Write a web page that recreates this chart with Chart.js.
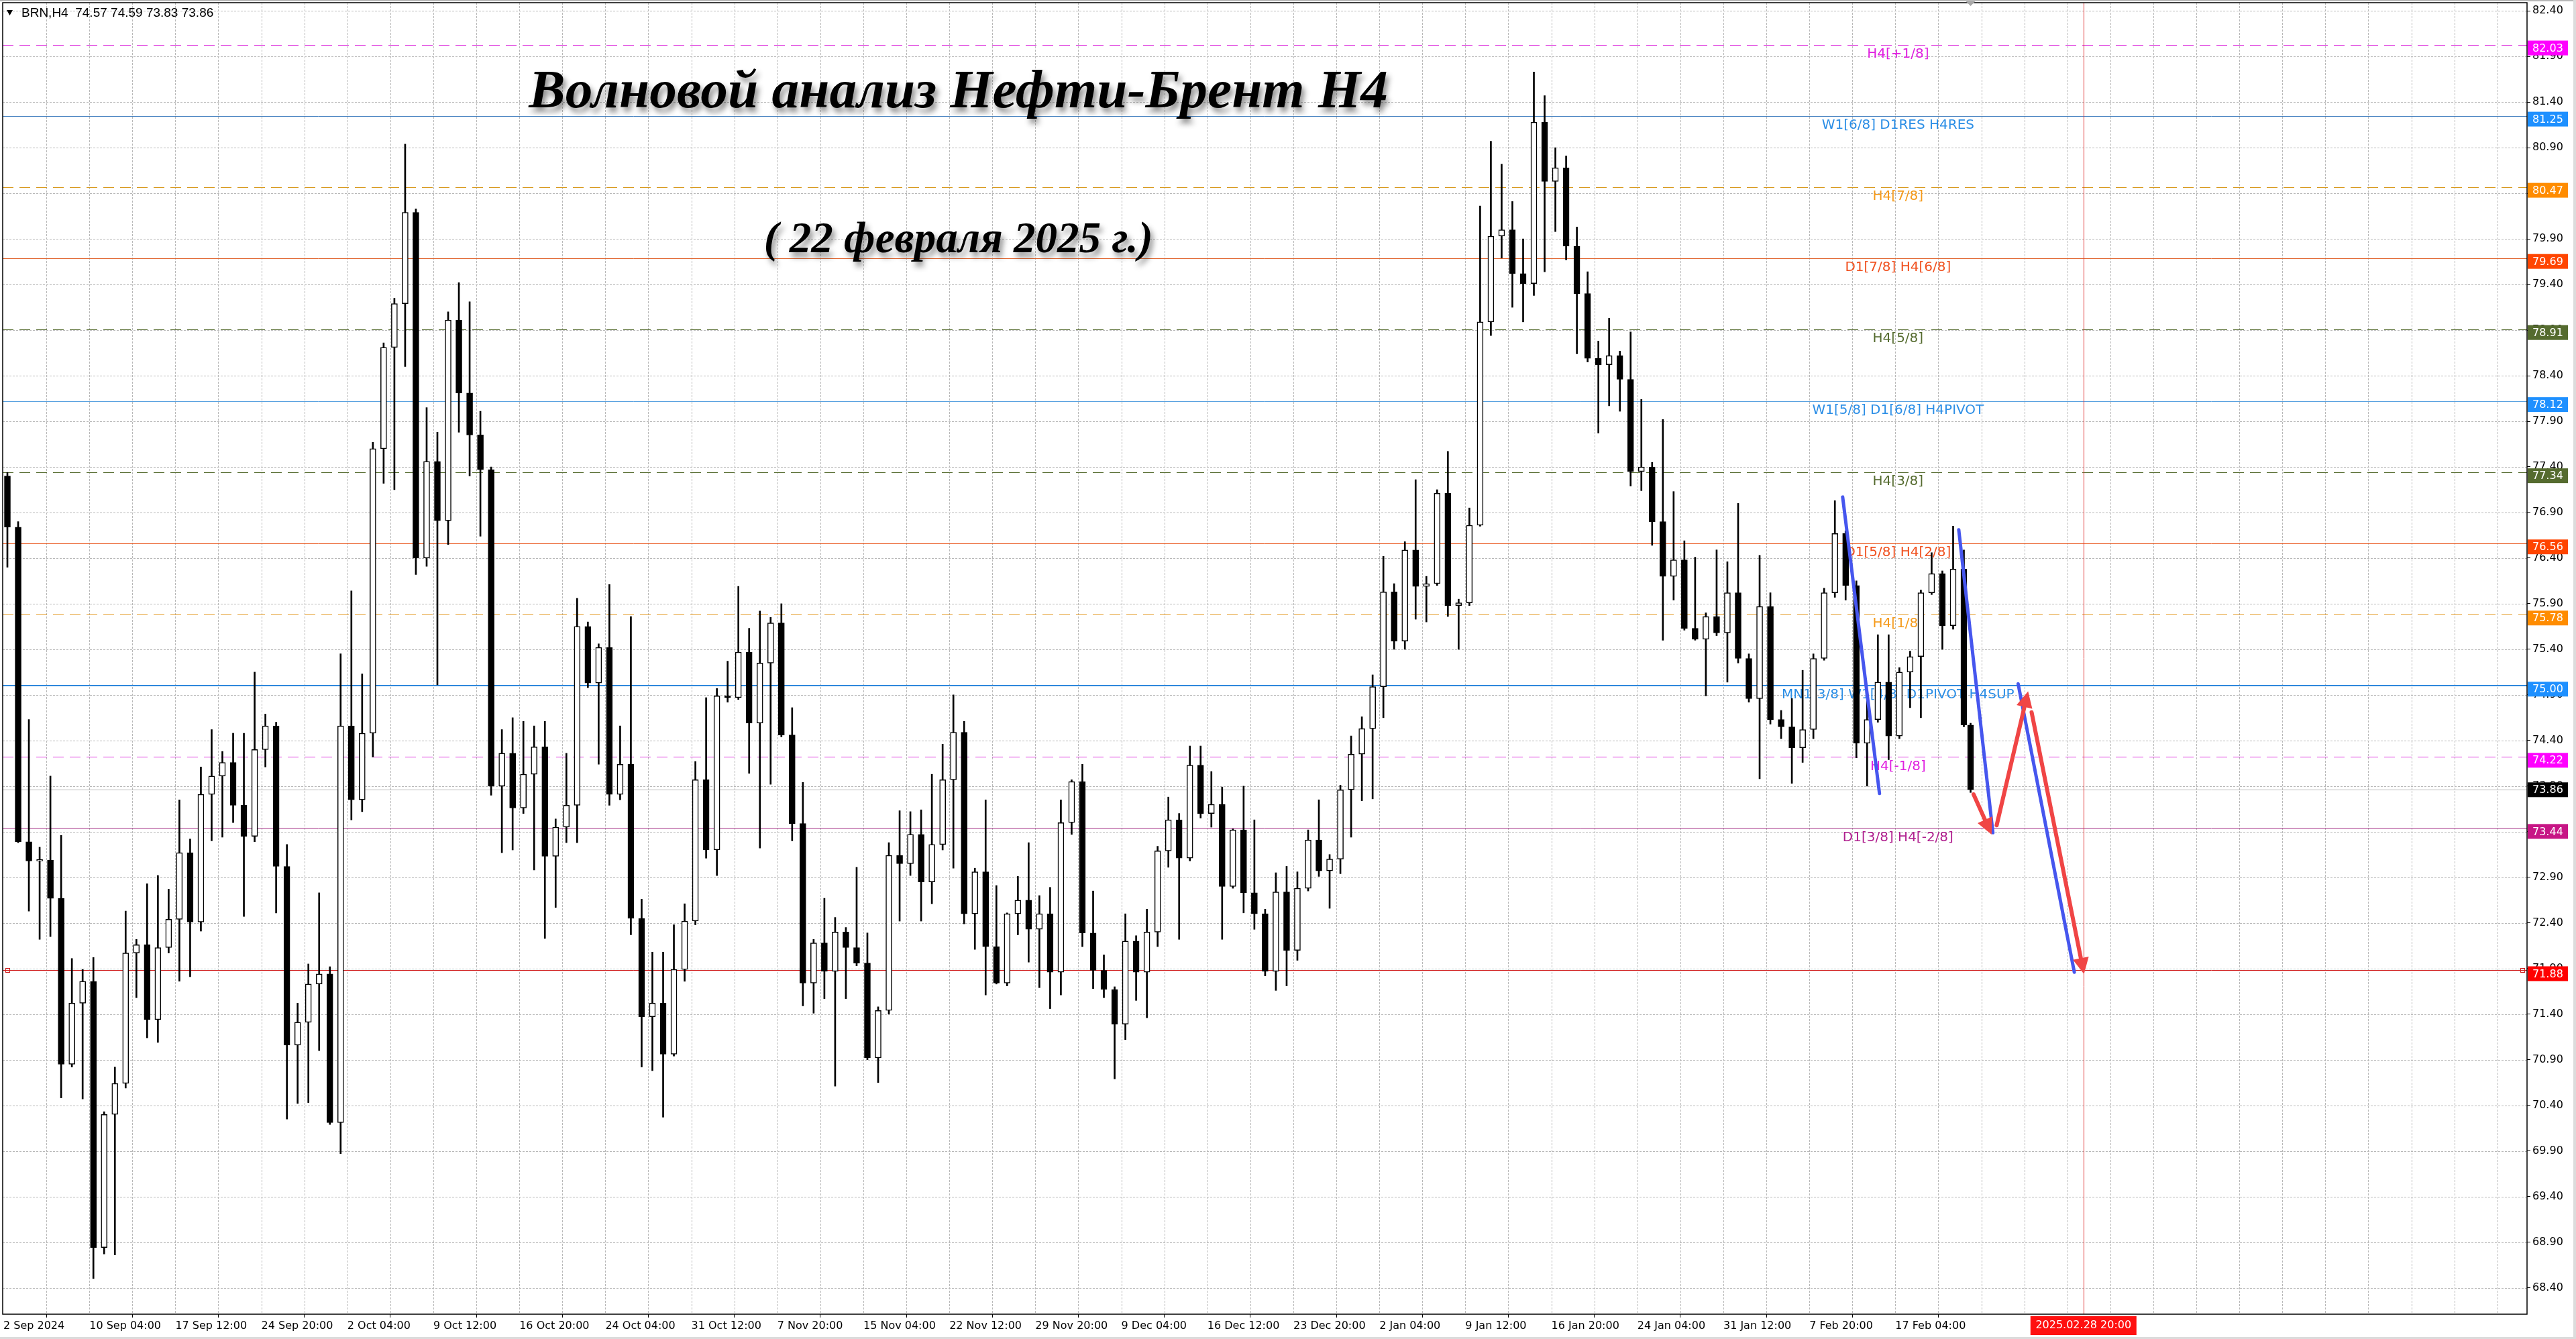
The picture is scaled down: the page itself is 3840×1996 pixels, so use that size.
<!DOCTYPE html>
<html>
<head>
<meta charset="utf-8">
<title>BRN,H4</title>
<script src="https://cdn.jsdelivr.net/npm/chart.js@4.4.1/dist/chart.umd.min.js"></script>
<style>
  html, body { margin: 0; padding: 0; background: #fff; overflow: hidden; }
  #wrap { width: 3840px; height: 1996px; }
</style>
</head>
<body>
<div id="wrap"><canvas id="brnChart" width="3840" height="1996"></canvas></div>
<script>
// BRN H4 candles, every 4 H4 bars merged into one candle (bars 0..732)
const opens = [
  77.30, 76.74, 73.29, 73.08, 73.09, 72.67, 70.85, 71.52, 71.76, 68.84,
  70.30, 70.64, 72.07, 72.16, 71.34, 72.13, 72.44, 73.17, 72.41, 73.81,
  74.01, 74.16, 73.69, 73.35, 74.30, 74.56, 73.02, 71.06, 71.31, 71.73,
  71.84, 70.21, 74.56, 73.75, 74.48, 77.60, 78.71, 79.19, 80.19, 76.40,
  77.46, 76.81, 79.01, 78.21, 77.75, 77.37, 73.90, 74.26, 73.66, 74.03,
  74.33, 73.13, 73.45, 73.69, 75.65, 75.03, 75.42, 73.81, 74.14, 72.45,
  71.37, 71.52, 70.96, 71.89, 72.42, 73.97, 73.20, 74.89, 74.87, 75.37,
  74.59, 75.25, 75.69, 74.46, 73.49, 71.74, 72.18, 71.87, 72.30, 72.13,
  71.96, 70.92, 71.44, 73.14, 73.05, 73.37, 72.85, 73.26, 73.97, 74.49,
  72.50, 72.96, 72.14, 71.74, 72.50, 72.65, 72.33, 72.50, 71.86, 73.50,
  73.95, 72.29, 71.88, 71.67, 71.29, 72.20, 71.86, 72.30, 73.19, 73.53,
  73.11, 74.13, 73.60, 73.70, 72.80, 73.42, 72.73, 72.50, 71.87, 72.74,
  72.10, 72.78, 73.31, 72.97, 73.10, 73.86, 74.25, 74.53, 74.99, 76.03,
  75.49, 76.49, 76.09, 76.12, 77.11, 75.88, 75.91, 76.76, 78.99, 79.93,
  80.00, 79.52, 79.41, 81.18, 80.53, 80.68, 79.82, 79.30, 78.59, 78.52,
  78.62, 78.36, 77.35, 77.40, 76.80, 76.20, 76.38, 75.63, 75.51, 75.76,
  75.58, 76.02, 75.30, 74.86, 75.87, 74.63, 74.55, 74.32, 74.52, 75.30,
  76.02, 76.67, 76.10, 74.37, 74.63, 75.04, 74.45, 75.15, 75.32, 76.02,
  76.23, 75.66, 76.28, 74.57
];
const highs = [
  77.34, 76.80, 74.63, 73.23, 74.01, 73.36, 72.01, 71.89, 72.02, 70.33,
  70.82, 72.53, 72.22, 72.83, 72.92, 72.77, 73.75, 73.32, 74.11, 74.52,
  74.28, 74.48, 74.48, 75.15, 74.69, 74.60, 73.26, 71.52, 71.95, 72.73,
  71.92, 75.35, 76.04, 75.13, 77.67, 78.76, 79.25, 80.94, 80.23, 78.05,
  77.78, 79.10, 79.42, 79.21, 78.01, 77.40, 74.52, 74.65, 74.61, 74.56,
  74.61, 73.54, 74.26, 75.96, 75.70, 75.46, 76.11, 74.56, 75.76, 72.66,
  72.08, 72.08, 72.38, 72.61, 74.17, 74.87, 74.97, 75.27, 76.09, 75.63,
  75.82, 75.75, 75.90, 74.76, 73.94, 72.22, 72.67, 72.46, 72.35, 73.01,
  72.29, 71.48, 73.28, 73.63, 73.62, 73.64, 74.03, 74.36, 74.90, 74.61,
  73.00, 73.75, 72.81, 72.51, 72.91, 73.28, 72.70, 72.79, 73.75, 73.97,
  74.14, 72.75, 72.05, 71.70, 72.50, 72.26, 72.55, 73.24, 73.78, 73.60,
  74.34, 74.34, 74.06, 73.89, 73.43, 73.90, 73.53, 72.55, 72.95, 73.02,
  72.96, 73.42, 73.75, 73.15, 73.91, 74.45, 74.66, 75.12, 76.42, 76.12,
  76.58, 77.26, 76.20, 77.15, 77.57, 75.95, 76.95, 80.26, 80.97, 80.72,
  80.31, 79.90, 81.73, 81.47, 80.90, 80.81, 80.03, 79.54, 78.78, 79.03,
  78.67, 78.88, 78.14, 77.45, 77.92, 77.13, 76.59, 76.41, 75.80, 76.49,
  76.36, 77.00, 75.35, 76.43, 76.02, 74.73, 74.86, 75.17, 75.35, 76.07,
  77.03, 76.70, 76.15, 74.94, 75.56, 75.56, 75.20, 75.38, 76.05, 76.46,
  76.26, 76.75, 76.49, 74.59
];
const lows = [
  76.30, 73.28, 72.53, 72.22, 72.25, 70.48, 70.82, 70.47, 68.50, 68.77,
  68.76, 70.59, 71.58, 71.14, 71.09, 72.07, 71.76, 71.81, 72.31, 73.30,
  73.34, 73.50, 72.47, 73.29, 74.11, 72.51, 70.25, 70.42, 70.43, 71.00,
  70.19, 69.87, 73.53, 73.62, 74.22, 77.22, 77.15, 78.50, 76.22, 76.31,
  75.01, 76.55, 77.78, 77.30, 76.64, 73.80, 73.17, 73.20, 73.60, 72.98,
  72.23, 72.57, 73.28, 73.28, 74.98, 74.14, 73.69, 73.75, 72.27, 70.82,
  70.78, 70.27, 70.94, 71.76, 72.38, 73.11, 72.92, 74.82, 74.85, 74.04,
  73.22, 73.92, 74.44, 73.30, 71.49, 71.41, 71.57, 70.61, 71.57, 71.93,
  70.90, 70.65, 71.40, 72.42, 72.92, 72.42, 72.61, 73.20, 73.00, 72.39,
  72.11, 71.61, 71.73, 71.71, 72.27, 71.97, 71.69, 71.46, 71.61, 73.37,
  72.14, 71.68, 71.58, 70.69, 71.12, 71.55, 71.36, 72.14, 73.01, 72.22,
  73.08, 73.55, 73.45, 72.22, 72.78, 72.51, 72.33, 71.82, 71.66, 71.71,
  71.99, 72.75, 72.91, 72.56, 72.94, 73.34, 73.74, 73.76, 74.65, 75.40,
  75.40, 75.73, 75.70, 76.10, 75.76, 75.40, 75.88, 76.75, 78.84, 79.69,
  79.15, 78.99, 79.28, 79.54, 79.98, 79.67, 78.64, 78.55, 77.77, 78.07,
  78.01, 77.19, 77.14, 76.54, 75.50, 75.94, 75.61, 75.50, 74.89, 75.55,
  75.04, 75.25, 74.82, 73.98, 74.58, 74.42, 73.93, 74.16, 74.42, 75.28,
  75.97, 75.94, 74.21, 73.90, 74.60, 74.19, 74.42, 74.76, 74.65, 76.00,
  75.40, 75.62, 74.55, 73.83
];
const closes = [
  76.74, 73.29, 73.08, 73.09, 72.67, 70.85, 71.52, 71.76, 68.84, 70.30,
  70.64, 72.07, 72.16, 71.34, 72.13, 72.44, 73.17, 72.41, 73.81, 74.01,
  74.16, 73.69, 73.35, 74.30, 74.56, 73.02, 71.06, 71.31, 71.73, 71.84,
  70.21, 74.56, 73.75, 74.48, 77.60, 78.71, 79.19, 80.19, 76.40, 77.46,
  76.81, 79.01, 78.21, 77.75, 77.37, 73.90, 74.26, 73.66, 74.03, 74.33,
  73.13, 73.45, 73.69, 75.65, 75.03, 75.42, 73.81, 74.14, 72.45, 71.37,
  71.52, 70.96, 71.89, 72.42, 73.97, 73.20, 74.89, 74.87, 75.37, 74.59,
  75.25, 75.69, 74.46, 73.49, 71.74, 72.18, 71.87, 72.30, 72.13, 71.96,
  70.92, 71.44, 73.14, 73.05, 73.37, 72.85, 73.26, 73.97, 74.49, 72.50,
  72.96, 72.14, 71.74, 72.50, 72.65, 72.33, 72.50, 71.86, 73.50, 73.95,
  72.29, 71.88, 71.67, 71.29, 72.20, 71.86, 72.30, 73.19, 73.53, 73.11,
  74.13, 73.60, 73.70, 72.80, 73.42, 72.73, 72.50, 71.87, 72.74, 72.10,
  72.78, 73.31, 72.97, 73.10, 73.86, 74.25, 74.53, 74.99, 76.03, 75.49,
  76.49, 76.09, 76.12, 77.11, 75.88, 75.91, 76.76, 78.99, 79.93, 80.00,
  79.52, 79.41, 81.18, 80.53, 80.68, 79.82, 79.30, 78.59, 78.52, 78.62,
  78.36, 77.35, 77.40, 76.80, 76.20, 76.38, 75.63, 75.51, 75.76, 75.58,
  76.02, 75.30, 74.86, 75.87, 74.63, 74.55, 74.32, 74.52, 75.30, 76.02,
  76.67, 76.10, 74.37, 74.63, 75.04, 74.45, 75.15, 75.32, 76.02, 76.23,
  75.66, 76.28, 74.57, 73.86
];

// time axis labels, one every 32 H4 bars
const xLabels = [
  '2 Sep 2024', '10 Sep 04:00', '17 Sep 12:00', '24 Sep 20:00', '2 Oct 04:00', '9 Oct 12:00',
  '16 Oct 20:00', '24 Oct 04:00', '31 Oct 12:00', '7 Nov 20:00', '15 Nov 04:00', '22 Nov 12:00',
  '29 Nov 20:00', '9 Dec 04:00', '16 Dec 12:00', '23 Dec 20:00', '2 Jan 04:00', '9 Jan 12:00',
  '16 Jan 20:00', '24 Jan 04:00', '31 Jan 12:00', '7 Feb 20:00', '17 Feb 04:00'
];
const yTicks = [
  82.40, 81.90, 81.40, 80.90, 80.40, 79.90, 79.40, 78.90, 78.40, 77.90, 77.40, 76.90, 76.40, 75.90, 75.40,
  74.90, 74.40, 73.90, 73.40, 72.90, 72.40, 71.90, 71.40, 70.90, 70.40, 69.90, 69.40, 68.90, 68.40
];

// Murrey levels drawn on the chart
const levelPrices = [82.03, 81.25, 80.47, 79.69, 78.91, 78.12, 77.34, 76.56, 75.78, 75.00, 74.22, 73.86, 73.44, 71.88];
const levelNames = [
  'H4[+1/8]', 'W1[6/8] D1RES H4RES', 'H4[7/8]', 'D1[7/8] H4[6/8]', 'H4[5/8]', 'W1[5/8] D1[6/8] H4PIVOT',
  'H4[3/8]', 'D1[5/8] H4[2/8]', 'H4[1/8]', 'MN1[3/8] W1[4/8] D1PIVOT H4SUP', 'H4[-1/8]', '', 'D1[3/8] H4[-2/8]', ''
];

// forecast: vertical time line and hand drawn waves (bar index, price)
const forecastBar = 774;
const forecastLabel = '2025.02.28 20:00';
const blueWaves = [[684.4, 77.07, 698.1, 73.82], [727.6, 76.71, 740.3, 73.39], [749.7, 75.02, 770.6, 71.86]];
const redArrows = [[733.1, 73.81, 739.8, 73.37], [741.7, 73.47, 753.4, 74.94], [754.7, 74.71, 774.2, 71.84]];

const headerText = 'BRN,H4  74.57 74.59 73.83 73.86';
const titleText = 'Волновой анализ Нефти-Брент H4';
const subtitleText = '( 22 февраля 2025 г.)';

// ---- styles ----
const DASH = [16, 9];
const levelStyles = [
  { line: '#dd33dd', dash: DASH, width: 1, text: '#e020e0', box: '#ff00ff' },
  { line: '#4682c0', dash: [], width: 1, text: '#2b8ee6', box: '#1e90ff' },
  { line: '#d89a20', dash: DASH, width: 1, text: '#f59a1a', box: '#ff8c00' },
  { line: '#e0652e', dash: [], width: 1, text: '#f0501e', box: '#ff4500' },
  { line: '#556b2f', dash: DASH, width: 1, text: '#556b2f', box: '#556b2f' },
  { line: '#5aa2e0', dash: [], width: 1, text: '#2b8ee6', box: '#1e90ff' },
  { line: '#556b2f', dash: DASH, width: 1, text: '#556b2f', box: '#556b2f' },
  { line: '#ea5a22', dash: [], width: 1, text: '#f0501e', box: '#ff4500' },
  { line: '#e39a22', dash: DASH, width: 1, text: '#f59a1a', box: '#ff8c00' },
  { line: '#2f88dc', dash: [], width: 2, text: '#2b8ee6', box: '#1e90ff' },
  { line: '#dd33dd', dash: DASH, width: 1, text: '#e020e0', box: '#ff00ff' },
  { line: '#b8b8b8', dash: [], width: 1, text: '#000000', box: '#000000' },
  { line: '#a02882', dash: [], width: 1, text: '#b0208f', box: '#c71585' },
  { line: '#d01c1c', dash: [], width: 1, text: '#ff0000', box: '#ff0000' }
];
const labelBar = 705;   // where the level names are centred
const FONT = '"DejaVu Sans", Verdana, sans-serif';

function drawArrow(ctx, x1, y1, x2, y2, color, width, head) {
  const ang = Math.atan2(y2 - y1, x2 - x1);
  const bx = x2 - head * Math.cos(ang), by = y2 - head * Math.sin(ang);
  ctx.strokeStyle = color; ctx.fillStyle = color; ctx.lineWidth = width; ctx.lineCap = 'round';
  ctx.beginPath(); ctx.moveTo(x1, y1); ctx.lineTo(bx, by); ctx.stroke();
  const px = -Math.sin(ang) * head * 0.5, py = Math.cos(ang) * head * 0.5;
  ctx.beginPath(); ctx.moveTo(x2, y2); ctx.lineTo(bx + px, by + py); ctx.lineTo(bx - px, by - py); ctx.closePath(); ctx.fill();
}

function fitFont(ctx, text, style, family, targetWidth) {
  ctx.font = style + ' 100px ' + family;
  const w = ctx.measureText(text).width;
  return 100 * targetWidth / w;
}

const mt4Overlay = {
  id: 'mt4Overlay',
  beforeDatasetsDraw(chart) {
    const { ctx, chartArea: a } = chart;
    const xs = chart.scales.x, ys = chart.scales.y;
    ctx.save();
    ctx.beginPath(); ctx.rect(a.left, a.top, a.right - a.left, a.bottom - a.top); ctx.clip();

    // dotted grid
    ctx.strokeStyle = '#b8b8b8'; ctx.lineWidth = 1; ctx.setLineDash([3, 2]);
    ctx.beginPath();
    for (let b = 16; b < xs.max; b += 16) {
      const px = Math.round(xs.getPixelForValue(b)) + 0.5;
      ctx.moveTo(px, a.top); ctx.lineTo(px, a.bottom);
    }
    yTicks.forEach(v => {
      const py = Math.round(ys.getPixelForValue(v)) + 0.5;
      ctx.moveTo(a.left, py); ctx.lineTo(a.right, py);
    });
    ctx.stroke();

    // level lines
    levelPrices.forEach((p, i) => {
      const st = levelStyles[i];
      const py = Math.round(ys.getPixelForValue(p)) + (st.width % 2 ? 0.5 : 0);
      ctx.setLineDash(st.dash); ctx.strokeStyle = st.line; ctx.lineWidth = st.width;
      ctx.beginPath(); ctx.moveTo(a.left, py); ctx.lineTo(a.right, py); ctx.stroke();
    });
    ctx.setLineDash([]);

    // end markers of the target line
    const ty = Math.round(ys.getPixelForValue(71.88)) + 0.5;
    ctx.strokeStyle = '#d01c1c'; ctx.lineWidth = 1;
    ctx.strokeRect(a.left + 4.5, ty - 3, 6, 6);
    ctx.strokeRect(a.right - 9.5, ty - 3, 6, 6);

    // level names
    ctx.font = '20px ' + FONT; ctx.textAlign = 'center'; ctx.textBaseline = 'top';
    const tx = xs.getPixelForValue(labelBar);
    levelPrices.forEach((p, i) => {
      if (!levelNames[i]) return;
      ctx.fillStyle = levelStyles[i].text;
      ctx.fillText(levelNames[i], tx, ys.getPixelForValue(p) + 4);
    });

    // forecast time line
    const fx = Math.round(xs.getPixelForValue(forecastBar)) + 0.5;
    ctx.strokeStyle = '#e03030'; ctx.lineWidth = 1;
    ctx.beginPath(); ctx.moveTo(fx, a.top); ctx.lineTo(fx, a.bottom); ctx.stroke();
    ctx.restore();
  },
  afterDatasetsDraw(chart) {
    const { ctx } = chart;
    const xs = chart.scales.x, ys = chart.scales.y;
    ctx.save();
    ctx.lineCap = 'round';
    ctx.strokeStyle = '#4656ee'; ctx.lineWidth = 5;
    blueWaves.forEach(([b1, p1, b2, p2]) => {
      ctx.beginPath();
      ctx.moveTo(xs.getPixelForValue(b1), ys.getPixelForValue(p1));
      ctx.lineTo(xs.getPixelForValue(b2), ys.getPixelForValue(p2));
      ctx.stroke();
    });
    redArrows.forEach(([b1, p1, b2, p2]) => {
      drawArrow(ctx, xs.getPixelForValue(b1), ys.getPixelForValue(p1),
        xs.getPixelForValue(b2), ys.getPixelForValue(p2), '#f04545', 6, 24);
    });
    ctx.restore();
  },
  afterDraw(chart) {
    const { ctx, chartArea: a } = chart;
    const xs = chart.scales.x, ys = chart.scales.y;
    ctx.save();

    // window edges
    ctx.fillStyle = '#b8b8b8'; ctx.fillRect(0, 0, chart.width, 2);
    ctx.fillStyle = '#dcdcdc'; ctx.fillRect(chart.width - 4, 0, 4, chart.height);
    ctx.fillRect(0, chart.height - 3, chart.width, 3);

    // plot frame
    ctx.strokeStyle = '#000'; ctx.lineWidth = 1.5;
    ctx.strokeRect(a.left, a.top, a.right - a.left, a.bottom - a.top);

    // shift marker
    const sx = xs.getPixelForValue(732);
    ctx.fillStyle = '#a8a8a8';
    ctx.beginPath(); ctx.moveTo(sx - 7, 2); ctx.lineTo(sx + 7, 2); ctx.lineTo(sx, 9); ctx.closePath(); ctx.fill();

    // price labels on the axis
    ctx.font = '16px ' + FONT; ctx.textAlign = 'left'; ctx.textBaseline = 'middle';
    levelPrices.forEach((p, i) => {
      const py = ys.getPixelForValue(p);
      const top = i === 11 ? py - 11 : py - 6;
      ctx.fillStyle = levelStyles[i].box;
      ctx.fillRect(a.right + 1, top, 60, 22);
      ctx.fillStyle = '#fff';
      ctx.fillText(p.toFixed(2), a.right + 8, top + 12);
    });

    // forecast time label
    const fx = xs.getPixelForValue(forecastBar);
    ctx.fillStyle = '#ff1010';
    ctx.fillRect(fx - 79, a.bottom + 3, 158, 28);
    ctx.fillStyle = '#fff'; ctx.textAlign = 'center';
    ctx.fillText(forecastLabel, fx, a.bottom + 17);

    // header
    ctx.fillStyle = '#000';
    ctx.beginPath(); ctx.moveTo(10, 15); ctx.lineTo(19, 15); ctx.lineTo(14.5, 23); ctx.closePath(); ctx.fill();
    ctx.font = '19px "Liberation Sans", Arial, sans-serif'; ctx.textAlign = 'left';
    ctx.fillText(headerText, 32, 20);

    // title and date, with a soft shadow
    const cx = a.left + (a.right - a.left) * 0.3786;
    ctx.textAlign = 'center'; ctx.textBaseline = 'alphabetic';
    ctx.shadowColor = 'rgba(0,0,0,0.45)'; ctx.shadowBlur = 9; ctx.shadowOffsetX = 4; ctx.shadowOffsetY = 7;
    const titleFamily = '"Liberation Serif", "DejaVu Serif", serif';
    let fs = fitFont(ctx, titleText, 'italic bold', titleFamily, 1280);
    ctx.font = 'italic bold ' + fs.toFixed(1) + 'px ' + titleFamily;
    ctx.fillText(titleText, cx, 160);
    fs = fitFont(ctx, subtitleText, 'italic bold', titleFamily, 580);
    ctx.font = 'italic bold ' + fs.toFixed(1) + 'px ' + titleFamily;
    ctx.fillText(subtitleText, cx, 376);
    ctx.restore();
  }
};

function createBrentChart() {
  const ctx = document.getElementById('brnChart').getContext('2d');
  Chart.defaults.font.family = FONT;

  const barX = opens.map((_, i) => Math.min(4 * i + 1.5, 732));
  const bodies = opens.map((o, i) => ({ x: barX[i], y: [o, closes[i]] }));
  const wicks = opens.map((o, i) => ({ x: barX[i], y: [lows[i], highs[i]] }));
  const bodyFill = opens.map((o, i) => closes[i] >= o ? '#ffffff' : '#000000');

  new Chart(ctx, {
    type: 'bar',
    data: {
      datasets: [
        {
          label: 'Body', data: bodies, backgroundColor: bodyFill, borderColor: '#000000',
          borderWidth: 1.5, borderSkipped: false, barThickness: 9, minBarLength: 2, grouped: false, order: 1
        },
        {
          label: 'Wick', data: wicks, backgroundColor: '#000000', borderWidth: 0,
          barThickness: 2, grouped: false, order: 2
        }
      ]
    },
    options: {
      responsive: false,
      devicePixelRatio: 1,
      animation: false,
      events: [],
      layout: { padding: { left: 4, top: 4, right: 0, bottom: 0 } },
      plugins: { legend: { display: false }, tooltip: { enabled: false } },
      scales: {
        x: {
          type: 'linear', position: 'bottom', min: -0.25, max: 939.05, offset: false,
          afterBuildTicks: s => { s.ticks = xLabels.map((_, k) => ({ value: 32 * k })); },
          afterFit: s => { s.height = 37; s.paddingLeft = 0; s.paddingRight = 0; },
          grid: { display: true, drawOnChartArea: false, drawTicks: true, tickLength: 5, tickColor: '#000' },
          border: { display: false },
          ticks: {
            autoSkip: false, maxRotation: 0, minRotation: 0, align: 'start', padding: 3,
            color: '#000', font: { family: FONT, size: 16 },
            callback: v => xLabels[Math.round(v / 32)] || ''
          }
        },
        y: {
          type: 'linear', position: 'right', min: 68.11, max: 82.49, beginAtZero: false,
          afterBuildTicks: s => { s.ticks = yTicks.map(v => ({ value: v })); },
          afterFit: s => { s.width = 73; s.paddingTop = 0; s.paddingBottom = 0; },
          grid: { display: true, drawOnChartArea: false, drawTicks: true, tickLength: 5, tickColor: '#000' },
          border: { display: false },
          ticks: { padding: 3, color: '#000', font: { family: FONT, size: 16 }, callback: v => v.toFixed(2) }
        }
      }
    },
    plugins: [mt4Overlay]
  });
}

document.addEventListener('DOMContentLoaded', createBrentChart);
</script>
</body>
</html>
